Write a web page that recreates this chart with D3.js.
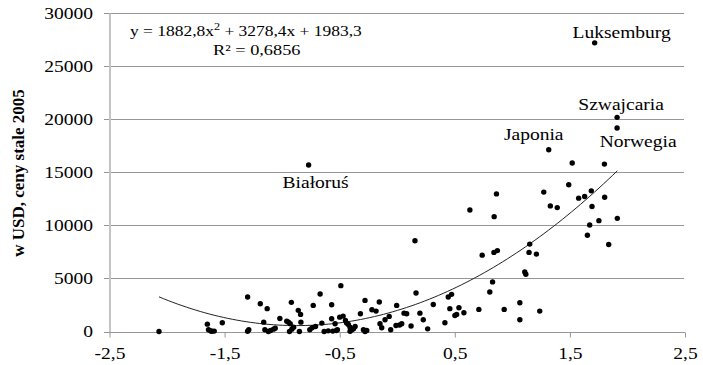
<!DOCTYPE html>
<html>
<head>
<meta charset="utf-8">
<script src="https://cdnjs.cloudflare.com/ajax/libs/d3/7.8.5/d3.min.js"></script>
<style>
  html, body { margin: 0; padding: 0; background: #fff; }
  svg { display: block; }
  svg text { font-family: 'Liberation Serif', Tinos, 'DejaVu Serif', serif !important; fill: #000; }
</style>
</head>
<body>
<div class="chart-wrapper"></div>
<script>
// index values (x) and GDP per capita in USD, constant 2005 prices (y)
const pointsX = [
  -2.07, -1.65, -1.64, -1.62, -1.61, -1.59, -1.52, -1.30, -1.30, -1.29,
  -1.19, -1.13, -1.16, -1.15, -1.12, -1.10, -1.075, -1.06, -1.02, -0.96,
  -0.945, -0.93, -0.936, -0.916, -0.90, -0.92, -0.86, -0.84, -0.837, -0.85,
  -0.76, -0.74, -0.71, -0.73, -0.67, -0.655, -0.635, -0.60, -0.56, -0.53,
  -0.52, -0.57, -0.57, -0.54, -0.49, -0.50, -0.47, -0.45, -0.44, -0.425,
  -0.41, -0.41, -0.395, -0.38, -0.366, -0.32, -0.294, -0.28, -0.265, -0.28,
  -0.22, -0.184, -0.156, -0.15, -0.135, -0.106, -0.07, -0.057, -0.011, 0.02,
  0.039, -0.005, 0.059, 0.082, 0.12, 0.154, 0.163, 0.197, 0.226, 0.264,
  0.313, 0.414, 0.443, 0.472, 0.457, 0.501, 0.516, 0.536, 0.579, 0.631,
  0.709, 0.738, 0.804, 0.828, 0.842, 0.84, 0.87, 0.862, 0.929, 1.065,
  1.065, 1.108, 1.117, 1.151, 1.145, 1.209, 1.238, 1.273, 1.33, 1.39,
  1.49, 1.52, 1.576, 1.628, 1.686, 1.692, 1.672, 1.652, 1.752, 1.80,
  1.802, 1.837, 1.912
];
const pointsY = [
  0, 690, 160, 50, 30, 40, 820, 3250, 30, 160,
  2620, 2150, 880, 160, 0, 95, 220, 310, 1230, 975,
  880, 730, 0, 220, 410, 2745, 1990, 1610, 880, 0,
  160, 350, 470, 2460, 3530, 790, 0, 60, 40, 95,
  160, 2520, 1200, 730, 4320, 1350, 1450, 1040, 790, 660,
  410, 30, 160, 250, 470, 1670, 160, 0, 95, 2930,
  2050, 1920, 2780, 730, 350, 1100, 1420, 160, 570, 610,
  730, 2460, 1730, 1670, 520, 8550, 3630, 1730, 1100, 250,
  2550, 820, 3250, 3500, 2150, 1510, 1610, 2240, 1770, 11450,
  2080, 7190, 3720, 4670, 10820, 7450, 7620, 12960, 2080, 2710,
  1100, 5610, 5390, 8230, 7450, 7290, 1920, 13130, 11830, 11670,
  13820, 15870, 12560, 12710, 13250, 11770, 10030, 9060, 10440, 15770,
  12650, 8200, 10660
];

// named countries
const countryNames = ['Luksemburg', 'Szwajcaria', 'Norwegia', 'Japonia', 'Białoruś'];
const countryX = [1.715, 1.91, 1.91, 1.316, -0.77];
const countryY = [27190, 20170, 19170, 17120, 15680];

const xTicks = [-2.5, -1.5, -0.5, 0.5, 1.5, 2.5];
const yTicks = [0, 5000, 10000, 15000, 20000, 25000, 30000];

// quadratic trend: a*x^2 + b*x + c
const trendCoef = [1882.8, 3278.4, 1983.3];
const trendText = 'y = 1882,8x';
const trendText2 = ' + 3278,4x + 1983,3';
const r2Text = 'R² = 0,6856';
const yTitle = 'w USD, ceny stale 2005';

const width = 703;
const height = 365;
const stretch = 1.22;
const serif = "'Liberation Serif', Tinos, 'DejaVu Serif', serif";
const labelOffsets = {
  Luksemburg: [27, -5],
  Szwajcaria: [4, -7],
  Norwegia: [21, 19],
  Japonia: [-15, -10],
  'Białoruś': [7, 23]
};

let svg = d3.select('.chart-wrapper').append('svg')
  .attr('width', width)
  .attr('height', height)
  .attr('font-family', serif);

let x = d3.scaleLinear().domain([-2.5, 2.5]).range([109.5, 685]);
let y = d3.scaleLinear().domain([0, 30000]).range([331.5, 13]);

// grid lines
svg.append('g')
  .selectAll('line')
  .data(yTicks.filter((t) => t > 0))
  .enter()
  .append('line')
  .attr('x1', 104)
  .attr('x2', 684)
  .attr('y1', (t) => Math.round(y(t)) + 0.5)
  .attr('y2', (t) => Math.round(y(t)) + 0.5)
  .attr('stroke', '#969696')
  .attr('stroke-width', 1);

// x axis
let xAxis = svg.append('g')
  .attr('transform', `translate(0, ${Math.round(y(0)) + 0.5})`)
  .call(d3.axisBottom(x)
    .tickValues(xTicks)
    .tickSize(5)
    .tickSizeOuter(0)
    .tickPadding(10)
    .tickFormat((d) => d3.format('.1f')(d).replace('.', ',').replace('−', '-')));
xAxis.attr('font-family', serif);
xAxis.select('.domain').attr('stroke', '#969696').attr('d', 'M104,0H685');
xAxis.selectAll('.tick line').attr('stroke', '#969696');
xAxis.selectAll('.tick text')
  .attr('font-size', 16)
  .attr('transform', `scale(${stretch},1)`);

// y axis
let yAxis = svg.append('g')
  .attr('transform', 'translate(109.5, 0)')
  .call(d3.axisLeft(y)
    .tickValues(yTicks)
    .tickSize(0)
    .tickSizeOuter(0)
    .tickPadding(0)
    .tickFormat(d3.format('d')));
yAxis.attr('font-family', serif);
yAxis.select('.domain').attr('stroke', '#c4c4c4').attr('stroke-width', 2);
yAxis.selectAll('.tick text')
  .attr('font-size', 16)
  .attr('x', -16.5 / stretch)
  .attr('dy', '0.34em')
  .attr('transform', `scale(${stretch},1)`);

// trend line
let trend = (v) => trendCoef[0] * v * v + trendCoef[1] * v + trendCoef[2];
let xMin = d3.min(pointsX);
let xMax = d3.max(pointsX.concat(countryX));
let trendPts = d3.range(0, 101).map((i) => xMin + (xMax - xMin) * i / 100);
svg.append('path')
  .attr('d', d3.line().x((v) => x(v)).y((v) => y(trend(v)))(trendPts))
  .attr('fill', 'none')
  .attr('stroke', '#222')
  .attr('stroke-width', 1);

// points
let allPoints = pointsX.map((v, i) => ({ x: v, y: pointsY[i] }))
  .concat(countryX.map((v, i) => ({ x: v, y: countryY[i] })));
svg.append('g')
  .selectAll('circle')
  .data(allPoints)
  .enter()
  .append('circle')
  .attr('cx', (d) => x(d.x))
  .attr('cy', (d) => y(d.y))
  .attr('r', 2.7)
  .attr('fill', '#000');

// country labels
svg.append('g')
  .selectAll('text')
  .data(countryNames)
  .enter()
  .append('text')
  .attr('transform', (name, i) => {
    let off = labelOffsets[name];
    return `translate(${x(countryX[i]) + off[0]}, ${y(countryY[i]) + off[1]}) scale(${stretch},1)`;
  })
  .attr('text-anchor', 'middle')
  .attr('font-size', 16)
  .text((name) => name);

// equation
let eq = svg.append('text')
  .attr('transform', `translate(130, 36) scale(${stretch},1)`)
  .attr('font-size', 14.3);
eq.append('tspan').text(trendText);
eq.append('tspan').attr('font-size', 10).attr('dy', -6).text('2');
eq.append('tspan').attr('dy', 6).text(trendText2);

svg.append('text')
  .attr('transform', `translate(213, 55) scale(${stretch},1)`)
  .attr('font-size', 15)
  .text(r2Text);

// y axis title
svg.append('text')
  .attr('transform', 'translate(24, 173) rotate(-90)')
  .attr('text-anchor', 'middle')
  .attr('font-size', 17)
  .attr('font-weight', 'bold')
  .text(yTitle);
</script>
</body>
</html>
